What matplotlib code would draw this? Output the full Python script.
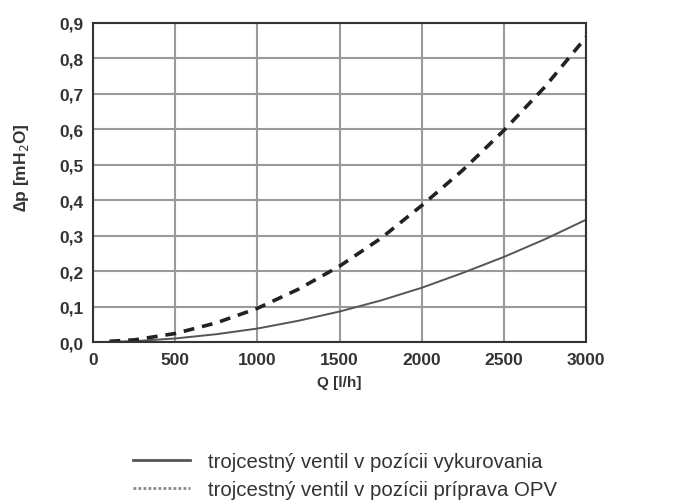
import matplotlib.pyplot as plt
from matplotlib.lines import Line2D
from matplotlib.ticker import FixedLocator, FixedFormatter

plt.rcParams['font.family'] = ['Liberation Sans', 'DejaVu Sans']

# ---- data ----
flow = [100, 250, 500, 750, 1000, 1250, 1500, 1750, 2000, 2250, 2500, 2750, 3000]
dp_heating = [0.0005, 0.0025, 0.010, 0.022, 0.038, 0.060, 0.086, 0.117, 0.153,
              0.195, 0.240, 0.290, 0.345]
dp_dhw = [0.002, 0.006, 0.024, 0.054, 0.095, 0.149, 0.214, 0.292, 0.385,
          0.485, 0.597, 0.720, 0.860]

x_ticks = [0, 500, 1000, 1500, 2000, 2500, 3000]
x_labels = ["0", "500", "1000", "1500", "2000", "2500", "3000"]
y_ticks = [0.0, 0.1, 0.2, 0.3, 0.4, 0.5, 0.6, 0.7, 0.8, 0.9]
y_labels = ["0,0", "0,1", "0,2", "0,3", "0,4", "0,5", "0,6", "0,7", "0,8", "0,9"]

label_heating = "trojcestný ventil v pozícii vykurovania"
label_dhw = "trojcestný ventil v pozícii príprava OPV"

fig = plt.figure(figsize=(6.86, 5.02), dpi=100)
ax = fig.add_axes([0.1356, 0.3167, 0.7187, 0.6355])

ax.plot(flow, dp_heating, color="#555555", lw=1.4)
ax.plot(flow, dp_dhw, color="#222222", lw=2.6, dashes=(3.0, 2.2))

ax.set_xlim(0, 3000)
ax.set_ylim(0, 0.9)
ax.xaxis.set_major_locator(FixedLocator(x_ticks))
ax.xaxis.set_major_formatter(FixedFormatter(x_labels))
ax.yaxis.set_major_locator(FixedLocator(y_ticks))
ax.yaxis.set_major_formatter(FixedFormatter(y_labels))
ax.tick_params(length=0, labelsize=12.5, labelcolor="#333333", pad=7)
for lab in ax.get_xticklabels() + ax.get_yticklabels():
    lab.set_fontweight("bold")

ax.grid(True, color="#9a9a9a", lw=1.5)
ax.set_axisbelow(True)
for sp in ax.spines.values():
    sp.set_color("#333333")
    sp.set_linewidth(1.5)

ax.set_xlabel("Q [l/h]", fontsize=11, color="#333333", fontweight="bold",
              labelpad=6)
ax.set_ylabel("∆p [mH$_2$O]", fontsize=12.5, color="#333333",
              fontweight="bold")
ax.yaxis.set_label_coords(-0.125, 0.55)

# ---- legend below the chart ----
handles = [
    Line2D([], [], color="#555555", lw=2.0),
    Line2D([], [], color="#888888", lw=2.0, dashes=(1.0, 0.8)),
]
leg = fig.legend(handles=handles, labels=[label_heating, label_dhw],
                 loc="upper left", bbox_to_anchor=(0.194, 0.098),
                 bbox_transform=fig.transFigure, frameon=False,
                 fontsize=14.7, handlelength=2.8, handletextpad=0.85,
                 labelspacing=0.45, borderpad=0, borderaxespad=0)
for t in leg.get_texts():
    t.set_color("#333333")

fig.savefig("out.png", dpi=100, facecolor="white")
